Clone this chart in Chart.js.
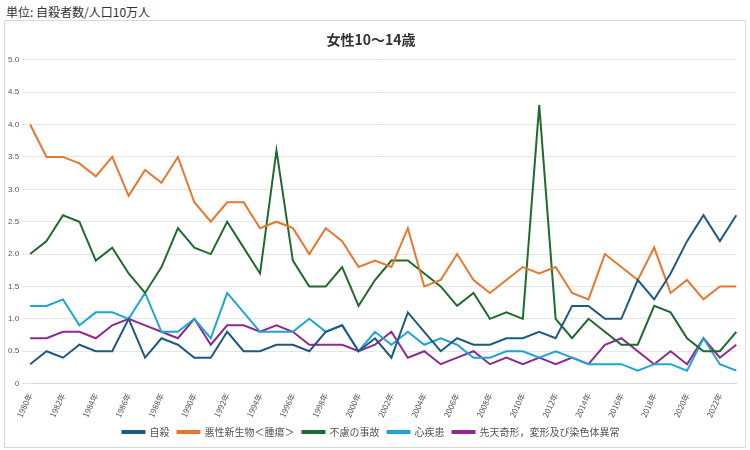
<!DOCTYPE html>
<html><head><meta charset="utf-8">
<script src="https://cdn.jsdelivr.net/npm/chart.js"></script>
<style>
body{margin:0;width:750px;height:450px;background:#fff;font-family:"Noto Sans CJK JP",sans-serif;}
#unit{position:absolute;left:6px;top:3px;font-size:12px;color:#333;}
#box{position:absolute;left:4px;top:20px;width:742px;height:428px;border:1px solid #d9d9d9;box-sizing:border-box;}
</style></head><body>
<div id="unit">単位: 自殺者数/人口10万人</div>
<div id="box"><canvas id="c"></canvas></div>
<script>
const years=[];for(let y=1980;y<=2023;y++)years.push(y+'年');
const suicide=[0.3,0.5,0.4,0.6,0.5,0.5,1.0,0.4,0.7,0.6,0.4,0.4,0.8,0.5,0.5,0.6,0.6,0.5,0.8,0.9,0.5,0.7,0.4,1.1,0.8,0.5,0.7,0.6,0.6,0.7,0.7,0.8,0.7,1.2,1.2,1.0,1.0,1.6,1.3,1.7,2.2,2.6,2.2,2.6];
const cancer=[4.0,3.5,3.5,3.4,3.2,3.5,2.9,3.3,3.1,3.5,2.8,2.5,2.8,2.8,2.4,2.5,2.4,2.0,2.4,2.2,1.8,1.9,1.8,2.4,1.5,1.6,2.0,1.6,1.4,1.6,1.8,1.7,1.8,1.4,1.3,2.0,1.8,1.6,2.1,1.4,1.6,1.3,1.5,1.5];
const accident=[2.0,2.2,2.6,2.5,1.9,2.1,1.7,1.4,1.8,2.4,2.1,2.0,2.5,2.1,1.7,3.6,1.9,1.5,1.5,1.8,1.2,1.6,1.9,1.9,1.7,1.5,1.2,1.4,1.0,1.1,1.0,4.3,1.0,0.7,1.0,0.8,0.6,0.6,1.2,1.1,0.7,0.5,0.5,0.8];
const heart=[1.2,1.2,1.3,0.9,1.1,1.1,1.0,1.4,0.8,0.8,1.0,0.7,1.4,1.1,0.8,0.8,0.8,1.0,0.8,0.9,0.5,0.8,0.6,0.8,0.6,0.7,0.6,0.4,0.4,0.5,0.5,0.4,0.5,0.4,0.3,0.3,0.3,0.2,0.3,0.3,0.2,0.7,0.3,0.2];
const congenital=[0.7,0.7,0.8,0.8,0.7,0.9,1.0,0.9,0.8,0.7,1.0,0.6,0.9,0.9,0.8,0.9,0.8,0.6,0.6,0.6,0.5,0.6,0.8,0.4,0.5,0.3,0.4,0.5,0.3,0.4,0.3,0.4,0.3,0.4,0.3,0.6,0.7,0.5,0.3,0.5,0.3,0.7,0.4,0.6];
const names=['自殺','悪性新生物＜腫瘍＞','不慮の事故','心疾患','先天奇形，変形及び染色体異常'];
const colors=['#1f5a80','#e8772e','#1e6b2a','#1fa5d4','#8e2a8e'];
const data=[suicide,cancer,accident,heart,congenital];
new Chart(document.getElementById('c'),{type:'line',
data:{labels:years,datasets:data.map((d,i)=>({label:names[i],data:d,borderColor:colors[i],backgroundColor:colors[i],borderWidth:2,pointRadius:0,tension:0}))},
options:{responsive:true,maintainAspectRatio:false,animation:false,
layout:{padding:{left:0,right:8,top:0,bottom:0}},
plugins:{title:{display:true,text:'女性10〜14歳',font:{size:14,family:'Noto Sans CJK JP'},color:'#333',padding:{top:10,bottom:12}},
legend:{position:'bottom',labels:{boxWidth:22,boxHeight:2,font:{size:10,family:'Noto Sans CJK JP'},color:'#555',padding:8}}},
scales:{x:{grid:{display:false},border:{color:'#d9d9d9'},ticks:{autoSkip:false,maxRotation:65,minRotation:65,padding:0,font:{size:8,family:'Noto Sans CJK JP'},color:'#555',callback:function(v,i){return i%2===0?this.getLabelForValue(v):'';}}},
y:{min:0,max:5,border:{display:false},grid:{color:'#e5e5e5'},ticks:{stepSize:0.5,font:{size:8},color:'#555'}}}}});
</script></body></html>
